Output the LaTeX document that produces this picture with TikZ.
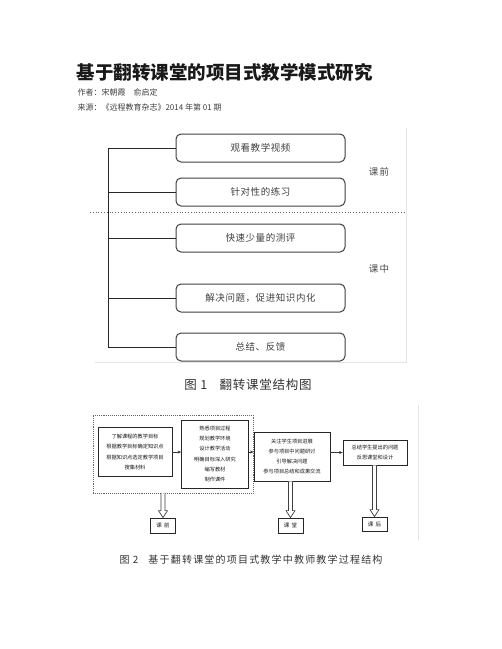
\documentclass[tikz,border=0pt]{standalone}
\usepackage{fontspec}
\setmainfont{Noto Sans CJK SC}
\usetikzlibrary{calc,arrows.meta}
\begin{document}
\begin{tikzpicture}[x=1pt,y=-1pt,
  rbox/.style={draw=black!75,line width=1pt,rounded corners=5pt,minimum width=169pt,minimum height=28pt,inner sep=0pt,
    font=\fontsize{9.5}{11}\selectfont\addfontfeature{LetterSpace=6},text=black!75},
  side/.style={font=\fontsize{9.5}{11}\selectfont\addfontfeature{LetterSpace=12},text=black!70},
  conn/.style={draw=black!85,line width=1pt},
  pbox/.style={draw=black!85,line width=0.8pt,inner sep=0pt,align=center,font=\fontsize{5.2}{10.3}\selectfont,text=black!90},
  lbl/.style={draw=black!85,line width=0.8pt,inner sep=0pt,font=\fontsize{5.5}{6}\selectfont\addfontfeature{LetterSpace=40},text=black!90},
  parr/.style={draw=black!80,line width=0.5pt,-{Stealth[length=3.5pt,width=3pt]}},
  hol/.style={draw=black!75,line width=0.7pt,fill=white},
  faint/.style={draw=black!10,line width=0.6pt}]
\useasboundingbox (0,0) rectangle (502,649);
\fill[white] (0,0) rectangle (502,649);
% header
\node[anchor=west,font=\fontsize{18.5}{20}\selectfont\bfseries,text=black!90] (title) at (73,72) {基于翻转课堂的项目式教学模式研究};
\node[anchor=west,font=\fontsize{8}{9}\selectfont,text=black!75] (author) at (74,92) {作者：宋朝霞　俞启定};
\node[anchor=west,font=\fontsize{8}{9}\selectfont,text=black!75] (source) at (74,107) {来源：《远程教育杂志》2014 年第 01 期};
% figure 1
\draw[faint] (406,128) -- (406,362) -- (95,362);
\node[rbox] (b1) at (260.5,148) {观看教学视频};
\node[rbox] (b2) at (260.5,192) {针对性的练习};
\node[rbox] (b3) at (260.5,238) {快速少量的测评};
\node[rbox] (b4) at (260.5,298) {解决问题，促进知识内化};
\node[rbox] (b5) at (260.5,347) {总结、反馈};
\draw[conn] (b1.west) -- ++(-67,0) coordinate (top) |- (b5.west);
\draw[conn] (b2.west) -- (b2.west -| top);
\draw[conn] (b3.west) -- (b3.west -| top);
\draw[conn] (b4.west) -- (b4.west -| top);
\coordinate (dl) at (90,212);
\coordinate (dr) at (405,212);
\draw[black!60,dotted,line width=0.8pt] (dl) -- (dr);
\node[side] (pre) at (379,172) {课前};
\node[side] (mid) at (379,269) {课中};
\node[font=\fontsize{12.5}{14}\selectfont\addfontfeature{LetterSpace=6},text=black!80] (cap1) at (248,385) {图 1\quad 翻转课堂结构图};
% figure 2
\draw[faint] (418,405) -- (418,540);
\node[draw=black!60,densely dotted,line width=0.9pt,minimum width=160pt,minimum height=78pt,inner sep=0pt] (dash) at (173,454) {};
\node[pbox,minimum width=74pt,minimum height=49pt] (p1) at (135,452) {了解课程的教学目标\\根据教学目标确定知识点\\根据知识点选定教学项目\\搜集材料};
\node[pbox,minimum width=67pt,minimum height=68pt] (p2) at (215,454) {熟悉项目过程\\规划教学环境\\设计教学活动\\明确目标深入研究\\编写教材\\制作课件};
\node[pbox,minimum width=76pt,minimum height=49pt] (p3) at (292,456.5) {关注学生项目进展\\参与项目中问题研讨\\引导解决问题\\参与项目总结和成果交流};
\node[pbox,minimum width=64pt,minimum height=25pt] (p4) at (375,452.5) {总结学生提出的问题\\反思课堂和设计};
\draw[parr] (p1.east) -- (p2.west |- p1.east);
\draw[parr] (p2.east |- p1.east) -- (p3.west |- p1.east);
\draw[parr] (p3.east |- p4.west) -- (p4.west);
\node[lbl,minimum width=25pt,minimum height=15pt] (q1) at (163,525.5) {课前};
\node[lbl,minimum width=25pt,minimum height=15pt] (q2) at (290.5,525.5) {课堂};
\node[lbl,minimum width=25pt,minimum height=14pt] (q3) at (374.5,524) {课后};
\newcommand\hollowarrow[2]{%
  \draw[hol] ($(#1)+(-2,0)$) -- ($(#2)+(-2,-7)$) -- ($(#2)+(-4.5,-7)$) -- (#2) -- ($(#2)+(4.5,-7)$) -- ($(#2)+(2,-7)$) -- ($(#1)+(2,0)$);}
\hollowarrow{q1.north |- dash.south}{q1.north}
\hollowarrow{q2.north |- p3.south}{q2.north}
\hollowarrow{q3.north |- p4.south}{q3.north}
\node[font=\fontsize{10}{12}\selectfont\addfontfeature{LetterSpace=12},text=black!80] (cap2) at (251,560) {图 2\quad 基于翻转课堂的项目式教学中教师教学过程结构};
\end{tikzpicture}
\end{document}
